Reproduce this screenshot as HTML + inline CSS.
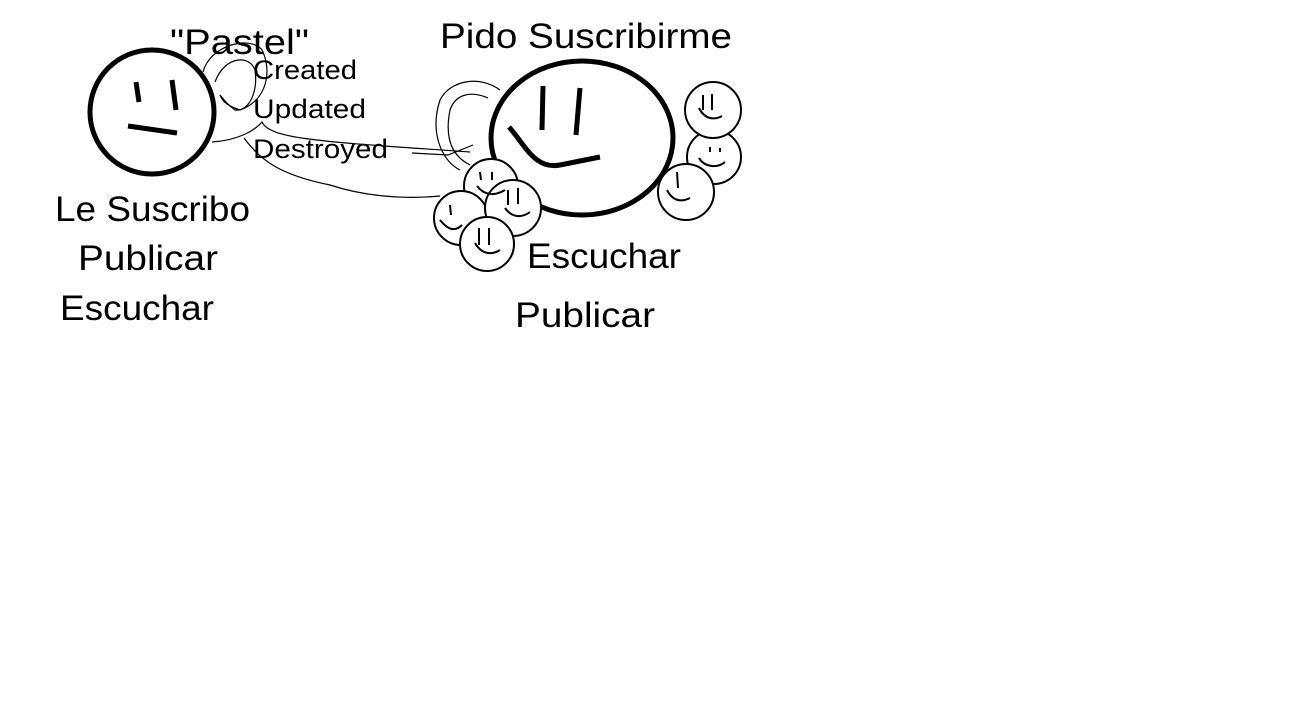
<!DOCTYPE html>
<html><head><meta charset="utf-8"><style>
html,body{margin:0;padding:0;background:#fff;width:1304px;height:704px;overflow:hidden}
svg{display:block}
text{font-family:"Liberation Sans",sans-serif;fill:#000}
</style></head><body>
<svg width="1304" height="704" viewBox="0 0 1304 704">
<g fill="none" stroke="#000">
<path d="M203 72 C210 45 250 35 262 50 C272 70 268 100 240 110 C225 105 222 100 220 95" stroke-width="1.2"/>
<path d="M215 82 C225 55 250 55 255 70 C258 90 250 112 235 110 C228 105 224 100 220 95" stroke-width="1.2"/>
<path d="M212 142 C240 140 255 130 262 122 C270 140 330 142 470 152" stroke-width="1.2"/>
<path d="M244 138 C260 160 280 175 330 185 C360 195 400 200 440 196" stroke-width="1.2"/>
<path d="M500 90 C480 75 450 80 440 100 C430 130 440 160 460 170" stroke-width="1.2"/>
<path d="M488 98 C470 90 455 95 450 110 C445 135 450 155 470 165" stroke-width="1.2"/>
<path d="M412 153 L448 155 L473 145" stroke-width="1.2"/>
<circle cx="152" cy="112" r="62" stroke-width="5"/>
<path d="M136 82 L139 102 M172 80 L176 110 M128 126 L177 133" stroke-width="5"/>
<ellipse cx="582" cy="138" rx="91" ry="77" stroke-width="5"/>
<path d="M543 86 L542 130 M580 88 L576 135" stroke-width="5"/>
<path d="M509 127 C525 145 535 170 560 165 L600 157" stroke-width="5"/>
<g stroke-width="2" fill="#fff">
<circle cx="491" cy="186" r="27"/>
<circle cx="461" cy="218" r="27"/>
<circle cx="513" cy="208" r="28"/>
<circle cx="487" cy="244" r="27"/>
<circle cx="714" cy="157" r="27"/>
<circle cx="686" cy="192" r="28"/>
<circle cx="713" cy="110" r="28"/>
</g>
<g stroke-width="2">
<path d="M480 172 L481 180 M492 172 L492 180 M477 186 C485 196 495 196 505 190"/>
<path d="M508 190 L508 205 M518 188 L518 204 M505 208 C512 218 522 218 530 212"/>
<path d="M479 228 L479 245 M489 228 L489 245 M475 243 C482 255 492 255 500 250"/>
<path d="M450 205 L451 215 M440 220 C448 230 455 232 462 225"/>
<path d="M703 95 L703 110 M712 94 L712 110 M699 108 C705 120 715 120 722 116"/>
<path d="M710 147 L710 152 M720 148 L720 152 M699 158 C705 168 718 168 725 162"/>
<path d="M677 172 L678 188 M667 190 C672 200 680 203 690 198"/>
</g>
</g>
<text x="170" y="54" font-size="35" textLength="139" lengthAdjust="spacingAndGlyphs">"Pastel"</text>
<text x="440" y="48" font-size="35" textLength="292" lengthAdjust="spacingAndGlyphs">Pido Suscribirme</text>
<text x="253" y="79" font-size="27" textLength="104" lengthAdjust="spacingAndGlyphs">Created</text>
<text x="253" y="118" font-size="27" textLength="113" lengthAdjust="spacingAndGlyphs">Updated</text>
<text x="253" y="158" font-size="27" textLength="135" lengthAdjust="spacingAndGlyphs">Destroyed</text>
<text x="55" y="221" font-size="35" textLength="195" lengthAdjust="spacingAndGlyphs">Le Suscribo</text>
<text x="78" y="270" font-size="35" textLength="140" lengthAdjust="spacingAndGlyphs">Publicar</text>
<text x="60" y="320" font-size="35" textLength="154" lengthAdjust="spacingAndGlyphs">Escuchar</text>
<text x="527" y="268" font-size="35" textLength="154" lengthAdjust="spacingAndGlyphs">Escuchar</text>
<text x="515" y="327" font-size="35" textLength="140" lengthAdjust="spacingAndGlyphs">Publicar</text>
</svg>
</body></html>
